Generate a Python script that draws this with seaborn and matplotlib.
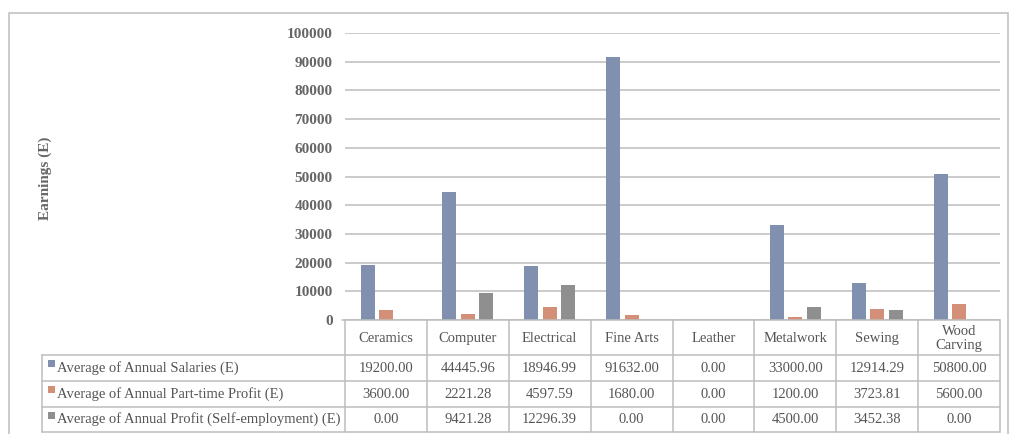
import matplotlib
matplotlib.use("Agg")
import matplotlib.pyplot as plt
import matplotlib.transforms as mtransforms
from matplotlib.patches import Rectangle
import seaborn as sns
import pandas as pd

# Course categories and the three earnings series
categories = ["Ceramics", "Computer", "Electrical", "Fine Arts", "Leather",
              "Metalwork", "Sewing", "Wood\nCarving"]
salaries = [19200.00, 44445.96, 18946.99, 91632.00, 0.00, 33000.00, 12914.29, 50800.00]
part_time = [3600.00, 2221.28, 4597.59, 1680.00, 0.00, 1200.00, 3723.81, 5600.00]
self_emp = [0.00, 9421.28, 12296.39, 0.00, 0.00, 4500.00, 3452.38, 0.00]
series_names = ["Average of Annual Salaries (E)",
                "Average of Annual Part-time Profit (E)",
                "Average of Annual Profit (Self-employment) (E)"]
y_ticks = [0, 10000, 20000, 30000, 40000, 50000, 60000, 70000, 80000, 90000, 100000]

colors = ["#8190AE", "#D38F78", "#8F8F8F"]
text_color = "#555555"
line_color = "#BDBDBD"

sns.set_style("white")
plt.rcParams["font.family"] = ["Liberation Serif", "DejaVu Serif"]

W, H = 1009, 434
fig = plt.figure(figsize=(W / 100, H / 100), dpi=100)

def fx(px):
    return px / W

def fy(py):
    return 1 - py / H

ax_left, ax_right, ax_top, ax_bottom = 345, 1000, 33, 320
ax = fig.add_axes([fx(ax_left), fy(ax_bottom), fx(ax_right - ax_left), (ax_bottom - ax_top) / H])

series_values = [salaries, part_time, self_emp]
rows = []
for name, vals in zip(series_names, series_values):
    for cat, v in zip(categories, vals):
        rows.append({"category": cat, "series": name, "value": v})
df = pd.DataFrame(rows)

sns.barplot(data=df, x="category", y="value", hue="series", order=categories,
            hue_order=series_names, palette=colors, width=0.675, gap=0.24,
            linewidth=0, saturation=1, errorbar=None, ax=ax, legend=False)

ax.set_xlim(-0.5, len(categories) - 0.5)
ax.set_ylim(0, 100000)
ax.set_yticks(y_ticks)
ax.set_yticklabels([str(t) for t in y_ticks], color="#666666", fontsize=11, fontweight="bold")
ax.set_xticks([])
ax.set_xlabel("")
ax.set_ylabel("")
ax.tick_params(axis="y", length=0, pad=9)
ax.yaxis.grid(True, color=line_color, linewidth=1.1)
ax.set_axisbelow(True)
for s in ax.spines.values():
    s.set_visible(False)

fig.text(fx(45), fy(178), "Earnings (E)", rotation=90, ha="center", va="center",
         color="#666666", fontsize=11, fontweight="bold")

# Data table under the plot
blend = mtransforms.blended_transform_factory(ax.transData, fig.transFigure)
ft = fig.transFigure
header_top, header_bot = 320, 355
row_lines = [355, 381, 407, 432]
table_left = 42
n = len(categories)

def hline(x0px, x1px, ypx):
    fig.add_artist(plt.Line2D([fx(x0px), fx(x1px)], [fy(ypx), fy(ypx)],
                              transform=ft, color=line_color, linewidth=1.1))

hline(ax_left - 3, ax_right, header_top)
for y in row_lines:
    hline(table_left, ax_right, y)

# vertical dividers between categories
for i in range(n + 1):
    xb = i - 0.5
    fig.add_artist(plt.Line2D([xb, xb], [fy(header_top), fy(row_lines[-1])],
                              transform=blend, color=line_color, linewidth=1.1))
fig.add_artist(plt.Line2D([fx(table_left), fx(table_left)], [fy(row_lines[0]), fy(row_lines[-1])],
                          transform=ft, color=line_color, linewidth=1.1))

for i, cat in enumerate(categories):
    fig.text(i, fy((header_top + header_bot) / 2 + 1), cat, transform=blend,
             ha="center", va="center", color=text_color, fontsize=10.5,
             linespacing=1.15)

for r, (name, vals, col) in enumerate(zip(series_names, series_values, colors)):
    ytop, ybot = row_lines[r], row_lines[r + 1]
    ymid = (ytop + ybot) / 2
    fig.add_artist(Rectangle((fx(48), fy(ymid - 1)), fx(7), 7 / H, transform=ft,
                             facecolor=col, edgecolor="none"))
    fig.text(fx(57), fy(ymid), name, transform=ft, ha="left", va="center",
             color=text_color, fontsize=10.5)
    for i, v in enumerate(vals):
        fig.text(i, fy(ymid), f"{v:.2f}", transform=blend, ha="center", va="center",
                 color=text_color, fontsize=10.5)

# Outer chart frame
fig.add_artist(Rectangle((fx(9), fy(445)), fx(1008 - 9), (445 - 13) / H, transform=ft,
                         facecolor="none", edgecolor=line_color, linewidth=1.1, clip_on=False))

fig.savefig("out.png", dpi=100)
